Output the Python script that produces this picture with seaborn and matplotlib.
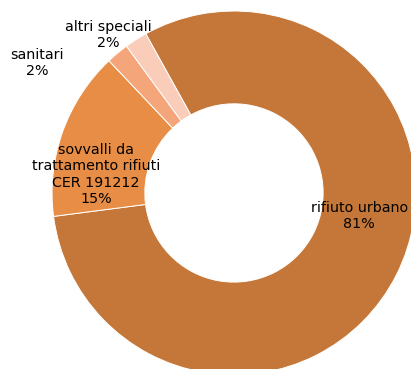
import matplotlib
matplotlib.use("Agg")
import matplotlib.pyplot as plt
import seaborn as sns

# Waste composition by category (percent)
categories = ["rifiuto urbano", "sovvalli da\ntrattamento rifiuti\nCER 191212", "sanitari", "altri speciali"]
shares = [81, 15, 2, 2]
colors = ["#C47738", "#E88D45", "#F4A67A", "#F9CDB9"]

# label anchor points (data units, donut centred at origin with radius 1)
label_x = [0.688, -0.758, -1.083, -0.692]
label_y = [-0.126, 0.101, 0.714, 0.868]

sns.set_theme(style="white")
plt.rcParams["font.family"] = ["DejaVu Sans"]

fig = plt.figure(figsize=(4.11, 3.69), dpi=100)
ax = fig.add_axes([0, 0, 1, 1])

ax.pie(
    shares,
    colors=colors,
    startangle=119,
    counterclock=False,
    radius=1.0,
    wedgeprops=dict(width=0.51, edgecolor="white", linewidth=0.7),
)

for name, val, x, y in zip(categories, shares, label_x, label_y):
    ax.text(x, y, f"{name}\n{val:.0f}%", ha="center", va="center",
            fontsize=10.3, color="black", linespacing=1.2)

ax.set_xlim(-1.286, 0.973)
ax.set_ylim(-0.967, 1.060)
ax.set_aspect("equal")
ax.axis("off")

fig.savefig("out.png", dpi=100)
